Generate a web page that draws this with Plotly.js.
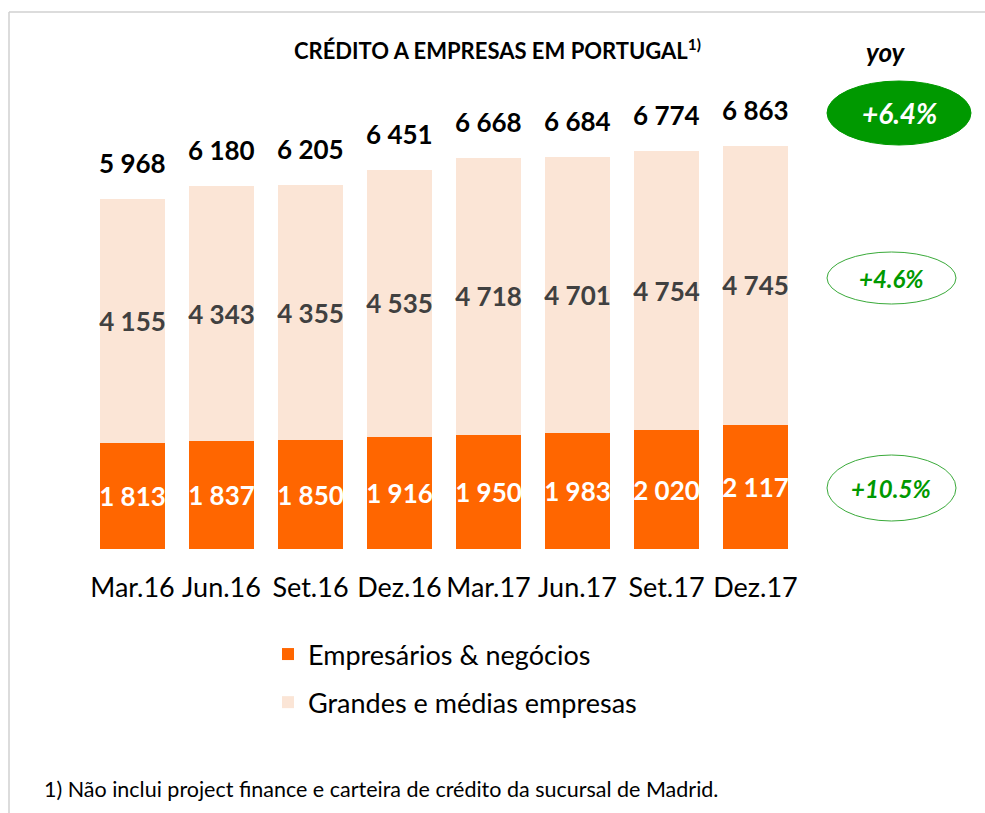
<!DOCTYPE html>
<html>
<head>
<meta charset="utf-8">
<script src="https://cdn.plot.ly/plotly-3.0.1.min.js"></script>
<style>html,body{margin:0;padding:0;background:#fff;}#chart{width:985px;height:813px;}</style>
</head>
<body>
<div id="chart"></div>
<script>
// ---- data ----
const categories = ["Mar.16", "Jun.16", "Set.16", "Dez.16", "Mar.17", "Jun.17", "Set.17", "Dez.17"];
const empresarios = [1813, 1837, 1850, 1916, 1950, 1983, 2020, 2117];
const grandes = [4155, 4343, 4355, 4535, 4718, 4701, 4754, 4745];
const totals = [5968, 6180, 6205, 6451, 6668, 6684, 6774, 6863];
const seriesNames = ["Empresários & negócios", "Grandes e médias empresas"];
const yoyLabels = ["+6.4%", "+4.6%", "+10.5%"];
const titleText = "CRÉDITO A EMPRESAS EM PORTUGAL<sup>1)</sup>";
const footnote = "1) Não inclui project finance e carteira de crédito da sucursal de Madrid.";

// ---- layout helpers ----
const W = 985, H = 813;
const M = {l: 88, r: 185, t: 100, b: 264};
const PW = W - M.l - M.r, PH = H - M.t - M.b;
const px = x => (x - M.l) / PW;
const py = y => (H - M.b - y) / PH;
const fmt = v => String(v).replace(/\B(?=(\d{3})+(?!\d))/g, " ");

const FONT = "Lato, 'Open Sans', sans-serif";
const ORANGE = "#FF6600", PEACH = "#FBE5D6", GREEN = "#009900";

const traces = [
  {
    type: "bar", name: seriesNames[0], x: categories, y: empresarios,
    marker: {color: ORANGE}, text: empresarios.map(fmt),
    textposition: "inside", insidetextanchor: "middle", constraintext: "none", textangle: 0,
    textfont: {family: FONT, size: 26, color: "#ffffff", weight: "bold"},
    legendgroup: "a", hoverinfo: "skip"
  },
  {
    type: "bar", name: seriesNames[1], x: categories, y: grandes,
    marker: {color: PEACH}, text: grandes.map(fmt),
    textposition: "inside", insidetextanchor: "middle", constraintext: "none", textangle: 0,
    textfont: {family: FONT, size: 26, color: "#404040", weight: "bold"},
    legendgroup: "b", hoverinfo: "skip"
  }
];

const annotations = totals.map((t, i) => ({
  x: categories[i], y: t, xref: "x", yref: "y", text: fmt(t),
  showarrow: false, yanchor: "bottom", yshift: 18,
  font: {family: FONT, size: 26, color: "#000", weight: "bold"}
}));

annotations.push(
  {xref: "paper", yref: "paper", x: px(497), y: py(50), text: titleText, showarrow: false,
   xanchor: "center", yanchor: "middle", font: {family: FONT, size: 22, color: "#000", weight: "bold"}},
  {xref: "paper", yref: "paper", x: px(886), y: py(52), text: "<i>yoy</i>", showarrow: false,
   xanchor: "center", yanchor: "middle", font: {family: FONT, size: 26, color: "#000", weight: "bold"}},
  {xref: "paper", yref: "paper", x: px(899), y: py(113), text: "<i>" + yoyLabels[0] + "</i>", showarrow: false,
   xanchor: "center", yanchor: "middle", font: {family: FONT, size: 28, color: "#fff", weight: "bold"}},
  {xref: "paper", yref: "paper", x: px(891), y: py(278), text: "<i>" + yoyLabels[1] + "</i>", showarrow: false,
   xanchor: "center", yanchor: "middle", font: {family: FONT, size: 24, color: GREEN, weight: "bold"}},
  {xref: "paper", yref: "paper", x: px(891), y: py(488), text: "<i>" + yoyLabels[2] + "</i>", showarrow: false,
   xanchor: "center", yanchor: "middle", font: {family: FONT, size: 24, color: GREEN, weight: "bold"}},
  {xref: "paper", yref: "paper", x: px(42), y: py(789), text: footnote, showarrow: false,
   xanchor: "left", yanchor: "middle", font: {family: FONT, size: 21.5, color: "#000"}}
);

const shapes = [
  {type: "line", xref: "paper", yref: "paper", x0: px(9), x1: px(990), y0: py(12), y1: py(12),
   line: {color: "#d0d0d0", width: 1.5}},
  {type: "line", xref: "paper", yref: "paper", x0: px(9), x1: px(9), y0: py(12), y1: py(820),
   line: {color: "#d0d0d0", width: 1.5}},
  {type: "circle", xref: "paper", yref: "paper", x0: px(827), x1: px(971), y0: py(81), y1: py(145),
   fillcolor: GREEN, line: {color: GREEN, width: 1}},
  {type: "circle", xref: "paper", yref: "paper", x0: px(827), x1: px(956), y0: py(252), y1: py(304),
   fillcolor: "rgba(0,0,0,0)", line: {color: "#3AAA3A", width: 1}},
  {type: "circle", xref: "paper", yref: "paper", x0: px(827), x1: px(956), y0: py(455), y1: py(521),
   fillcolor: "rgba(0,0,0,0)", line: {color: "#3AAA3A", width: 1}}
];

const layout = {
  width: W, height: H, margin: M,
  paper_bgcolor: "#fff", plot_bgcolor: "#fff",
  barmode: "stack", bargap: 0.27,
  font: {family: FONT, color: "#000"},
  xaxis: {type: "category", showline: false, showgrid: false, zeroline: false, ticks: "",
          ticklabelstandoff: 20, tickangle: 0,
          tickfont: {family: FONT, size: 27, color: "#000"}, fixedrange: true},
  yaxis: {visible: false, range: [0, PH / 0.0587], fixedrange: true},
  showlegend: true,
  legend: {x: px(268), y: py(630), xanchor: "left", yanchor: "top", orientation: "v",
           traceorder: "grouped", tracegroupgap: 10,
           font: {family: FONT, size: 27, color: "#000"}, bgcolor: "rgba(0,0,0,0)"},
  annotations: annotations,
  shapes: shapes
};

Plotly.newPlot("chart", traces, layout, {displayModeBar: false, staticPlot: true});
</script>
</body>
</html>
